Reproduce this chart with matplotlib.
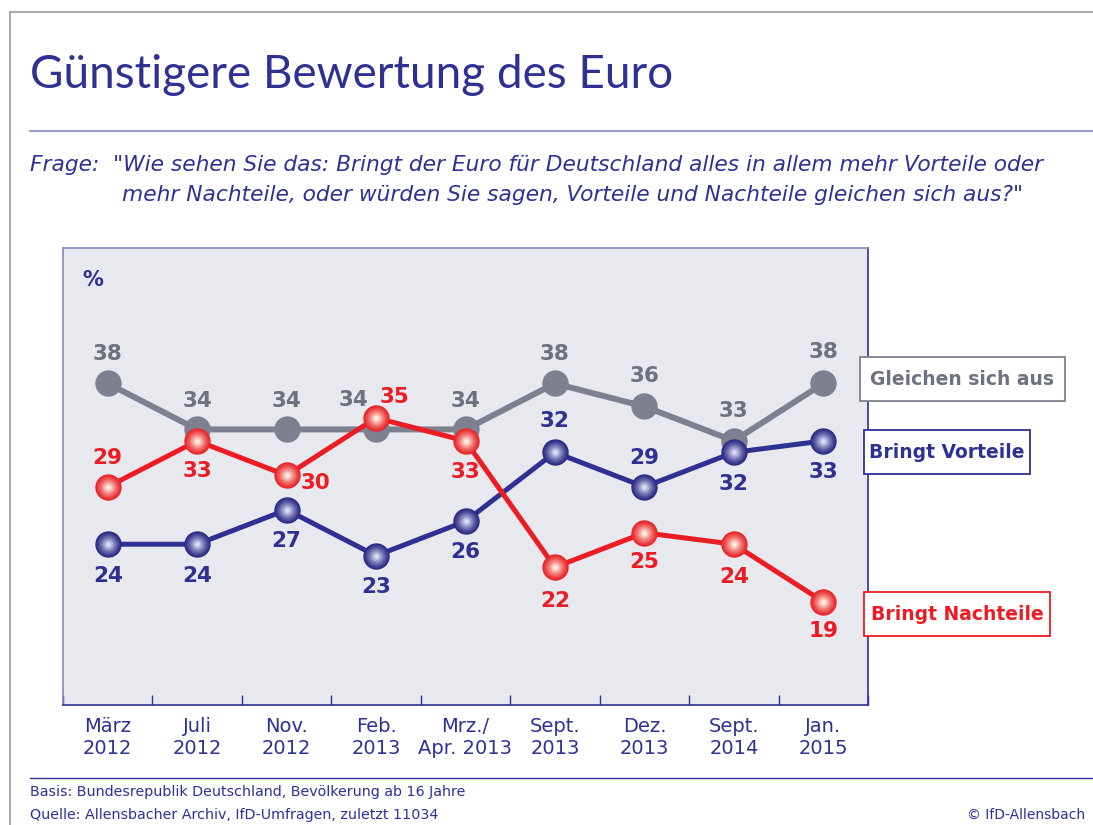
import numpy as np
import matplotlib
matplotlib.use("Agg")
import matplotlib.pyplot as plt
from matplotlib.lines import Line2D
from matplotlib.patches import Rectangle
from matplotlib.colors import to_rgb

# Daten
zeitpunkte = ["März\n2012", "Juli\n2012", "Nov.\n2012", "Feb.\n2013", "Mrz./\nApr. 2013",
              "Sept.\n2013", "Dez.\n2013", "Sept.\n2014", "Jan.\n2015"]
gleichen = [38, 34, 34, 34, 34, 38, 36, 33, 38]
vorteile = [24, 24, 27, 23, 26, 32, 29, 32, 33]
nachteile = [29, 33, 30, 35, 33, 22, 25, 24, 19]

# label offsets in pixels (dx, dy)
off_gleichen = [(0, 29), (0, 28), (0, 28), (-23, 29), (0, 28), (0, 29), (0, 30), (0, 30), (0, 31)]
off_vorteile = [(0, -32), (0, -32), (0, -31), (0, -31), (0, -31), (0, 31), (0, 29), (0, -32), (0, -31)]
off_nachteile = [(0, 29), (0, -30), (29, -8), (18, 21), (0, -31), (0, -34), (0, -29), (0, -33), (0, -29)]

BLAU = "#2e3192"
ROT = "#ec1c24"
GRAU = "#7d808f"
HELLBLAU = "#8488c4"
BG = "#e8e9ef"

W, H = 1093, 825
fig = plt.figure(figsize=(W / 100, H / 100), dpi=100)

def fx(x):
    return x / W

def fy(y):
    return 1 - y / H

ax = fig.add_axes([fx(63), fy(705), fx(868) - fx(63), fy(248) - fy(705)])
ax.set_facecolor(BG)
ax.set_xlim(-0.5, 8.5)
ax.set_ylim(10, 49.8)
x = np.arange(len(zeitpunkte))


def kugel(xs, ys, farbe, hell, z):
    # fake 3D sphere markers with stacked circles
    c0 = np.array(to_rgb(farbe))
    c1 = np.array(to_rgb(hell))
    sizes = np.linspace(19, 2.5, 14)
    for i, s in enumerate(sizes):
        t = (i / (len(sizes) - 1)) ** 1.3
        col = c0 * (1 - t) + c1 * t
        ax.plot(xs, ys, "o", ms=s, color=col, mec="none", zorder=z + i * 0.01)


ax.plot(x, gleichen, "-o", color=GRAU, lw=4.3, ms=19, mec="none", zorder=3)
ax.plot(x, vorteile, "-", color=BLAU, lw=3.6, zorder=4)
kugel(x, vorteile, "#2b2b85", "#dcdcf4", 5)
ax.plot(x, nachteile, "-", color=ROT, lw=3.6, zorder=6)
kugel(x, nachteile, "#e8262a", "#fff0e4", 7)

for werte, offs, farbe in [(gleichen, off_gleichen, "#6e717f"), (vorteile, off_vorteile, BLAU),
                           (nachteile, off_nachteile, ROT)]:
    for xi, v, (dx, dy) in zip(x, werte, offs):
        ax.annotate(str(v), (xi, v), xytext=(dx, dy), textcoords="offset pixels",
                    ha="center", va="center", fontsize=15.5, fontweight="bold", color=farbe, zorder=10)

fig.text(fx(93), fy(280), "%", ha="center", va="center", fontsize=15, fontweight="bold", color=BLAU)

# axes frame
for s in ["top", "left"]:
    ax.spines[s].set_color(HELLBLAU)
    ax.spines[s].set_linewidth(1.2)
for s in ["bottom", "right"]:
    ax.spines[s].set_color(BLAU)
    ax.spines[s].set_linewidth(1.2)
ax.set_yticks([])
ax.set_xticks(x)
ax.set_xticklabels(zeitpunkte, fontsize=14, color=BLAU, linespacing=1.15)
ax.tick_params(axis="x", which="major", length=0, pad=9)
ax.set_xticks(np.arange(-0.5, 9, 1), minor=True)
ax.tick_params(axis="x", which="minor", direction="in", length=7, color=BLAU, width=1)

# legend boxes
boxen = [("Gleichen sich aus", 860, 357, 1065, 401, GRAU, "#6e717f"),
         ("Bringt Vorteile", 864, 430, 1030, 474, BLAU, BLAU),
         ("Bringt Nachteile", 864, 592, 1050, 636, ROT, ROT)]
for txt, x0, y0, x1, y1, rand, tcol in boxen:
    fig.patches.append(Rectangle((fx(x0), fy(y1)), fx(x1) - fx(x0), fy(y0) - fy(y1),
                                 transform=fig.transFigure, facecolor="white", edgecolor=rand,
                                 lw=1.3, zorder=20))
    fig.text(fx((x0 + x1) / 2), fy((y0 + y1) / 2), txt, ha="center", va="center", fontsize=13.5,
             fontweight="bold", color=tcol, zorder=21)

# page frame and rules
fig.add_artist(Line2D([fx(10), 1], [fy(12), fy(12)], color="#9a9a9a", lw=1.2))
fig.add_artist(Line2D([fx(10), fx(10)], [0, fy(12)], color="#9a9a9a", lw=1.2))
fig.add_artist(Line2D([fx(30), 1], [fy(131), fy(131)], color=HELLBLAU, lw=1.2))
fig.add_artist(Line2D([fx(30), 1], [fy(778), fy(778)], color=BLAU, lw=1.0))

fig.text(fx(30), fy(75), "Günstigere Bewertung des Euro", fontsize=33, color=BLAU,
         ha="left", va="center", fontfamily="Lato")
fig.text(fx(30), fy(165), 'Frage:  "Wie sehen Sie das: Bringt der Euro für Deutschland alles in allem mehr Vorteile oder',
         fontsize=15.7, color=BLAU, style="italic", ha="left", va="center")
fig.text(fx(122), fy(195), 'mehr Nachteile, oder würden Sie sagen, Vorteile und Nachteile gleichen sich aus?"',
         fontsize=15.7, color=BLAU, style="italic", ha="left", va="center")

fig.text(fx(30), fy(792), "Basis: Bundesrepublik Deutschland, Bevölkerung ab 16 Jahre",
         fontsize=10.3, color=BLAU, ha="left", va="center")
fig.text(fx(30), fy(815), "Quelle: Allensbacher Archiv, IfD-Umfragen, zuletzt 11034",
         fontsize=10.3, color=BLAU, ha="left", va="center")
fig.text(fx(1085), fy(815), "© IfD-Allensbach", fontsize=10, color=BLAU, ha="right", va="center")

fig.savefig("out.png", dpi=100, facecolor="white")
